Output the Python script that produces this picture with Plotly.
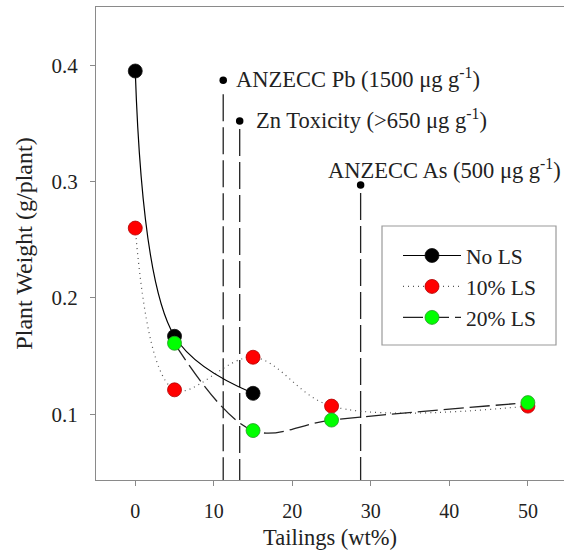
import plotly.graph_objects as go

# ---- data ----
tailings_no = [0, 5, 15]
weight_no = [0.395, 0.167, 0.118]

tailings_10 = [0, 5, 15, 25, 50]
weight_10 = [0.260, 0.121, 0.149, 0.107, 0.107]

tailings_20 = [5, 15, 25, 50]
weight_20 = [0.161, 0.086, 0.095, 0.110]

thresh_x = [11.2, 13.3, 28.7]
thresh_y = [0.387, 0.352, 0.297]
thresh_labels = ["ANZECC Pb (1500 μg g<sup>-1</sup>)",
                 "Zn Toxicity (>650 μg g<sup>-1</sup>)",
                 "ANZECC As (500 μg g<sup>-1</sup>)"]

x_ticks = [0, 10, 20, 30, 40, 50]
y_ticks = [0.1, 0.2, 0.3, 0.4]

# ---- styling ----
FONT = "Liberation Serif"
TXT = "#222222"
AX = "#8a8a8a"
W, H = 564, 559
ML, MR, MT, MB = 96, 0, 7, 79
XR = [-5, 54.6]
YR = [0.0435, 0.45]
px_per_y = (H - MT - MB) / (YR[1] - YR[0])
gaps_px = [14, 8, 8]

fig = go.Figure()

for i, (tx, ty) in enumerate(zip(thresh_x, thresh_y)):
    fig.add_trace(go.Scatter(
        x=[tx, tx], y=[ty - gaps_px[i] / px_per_y, YR[0]], mode="lines",
        line=dict(color="#222222", width=1.3, dash="27px,6px"),
        showlegend=False, hoverinfo="skip"))
fig.add_trace(go.Scatter(
    x=thresh_x, y=thresh_y, mode="markers",
    marker=dict(color="black", size=7.5), showlegend=False, hoverinfo="skip"))

fig.add_trace(go.Scatter(
    x=tailings_no, y=weight_no, mode="lines+markers", name="No LS",
    line=dict(color="black", width=1.2, shape="spline", smoothing=1.0),
    marker=dict(color="black", size=14, line=dict(color="#111", width=0.8))))
fig.add_trace(go.Scatter(
    x=tailings_10, y=weight_10, mode="lines+markers", name="10% LS",
    line=dict(color="#555555", width=1.2, shape="spline", smoothing=1.0, dash="1px,4px"),
    marker=dict(color="#ff0000", size=14, line=dict(color="#b00000", width=0.8))))
fig.add_trace(go.Scatter(
    x=tailings_20, y=weight_20, mode="lines+markers", name="20% LS",
    line=dict(color="#222222", width=1.3, shape="spline", smoothing=1.0, dash="20px,6px"),
    marker=dict(color="#00ff00", size=14, line=dict(color="#2a9a2a", width=0.8))))

ANN_FONT = dict(family=FONT, size=22.5, color=TXT)
fig.add_annotation(x=thresh_x[0], y=thresh_y[0], text=thresh_labels[0], xanchor="left",
                   yanchor="middle", xshift=11, yshift=2, showarrow=False, font=ANN_FONT)
fig.add_annotation(x=thresh_x[1], y=thresh_y[1], text=thresh_labels[1], xanchor="left",
                   yanchor="middle", xshift=14, yshift=2, showarrow=False, font=ANN_FONT)
fig.add_annotation(x=54.45, y=thresh_y[2], text=thresh_labels[2], xanchor="right",
                   yanchor="bottom", yshift=0, showarrow=False, font=ANN_FONT)

fig.add_shape(type="rect", xref="paper", yref="paper",
              x0=(382 - ML) / (W - ML - MR), x1=(556 - ML) / (W - ML - MR),
              y0=1 - (345 - MT) / (H - MT - MB), y1=1 - (226 - MT) / (H - MT - MB),
              line=dict(color="#9a9a9a", width=1.2), fillcolor="rgba(0,0,0,0)")

fig.update_layout(
    width=W, height=H,
    margin=dict(l=ML, r=MR, t=MT, b=MB),
    paper_bgcolor="white", plot_bgcolor="white",
    font=dict(family=FONT, size=20, color=TXT),
    showlegend=True,
    legend=dict(x=(398 - ML) / (W - ML - MR), y=1 - (235 - MT) / (H - MT - MB),
                xanchor="left", yanchor="top", bgcolor="rgba(0,0,0,0)", borderwidth=0,
                font=dict(family=FONT, size=21.5, color=TXT), tracegroupgap=0,
                itemwidth=58),
    xaxis=dict(range=XR, tickvals=x_ticks, ticks="outside", ticklen=5, tickcolor=AX,
               showline=True, linecolor=AX, linewidth=1.3, mirror=True, showgrid=False,
               zeroline=False, ticklabelstandoff=8, tickfont=dict(size=20),
               title=dict(text="Tailings (wt%)", standoff=8, font=dict(size=22.5))),
    yaxis=dict(range=YR, tickvals=y_ticks, tickformat=".1f", ticks="outside", ticklen=5,
               tickcolor=AX, showline=True, linecolor=AX, linewidth=1.3, mirror=False,
               showgrid=False, zeroline=False, ticklabelstandoff=8, tickfont=dict(size=21),
               title=dict(text="Plant Weight (g/plant)", standoff=12, font=dict(size=24))),
)

fig.write_html("out.html")
